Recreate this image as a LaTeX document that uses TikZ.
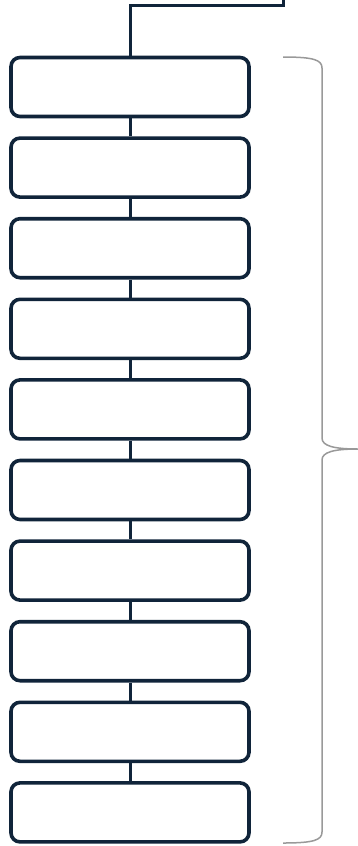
\documentclass[tikz,border=0pt]{standalone}
\usepackage{tikz}
\usetikzlibrary{positioning, calc}
\definecolor{navy}{HTML}{10243A}

\begin{document}
\begin{tikzpicture}[x=1pt, y=-1pt,
  stage/.style={draw=navy, line width=3.6pt, rounded corners=9pt, fill=white, minimum width=238pt, minimum height=59pt, inner sep=0pt},
  link/.style={draw=navy, line width=3pt},
  grouping/.style={draw=gray!80, line width=1.5pt}
]
\useasboundingbox (0,0) rectangle (358,846);

% Stages
\foreach \i in {1,...,10} {
  \node[stage] (box\i) at (130, {87 + (\i-1)*80.6}) {};
}

% Links between stages
\foreach \i [evaluate=\i as \j using int(\i+1)] in {1,...,9} {
  \draw[link] (box\i.south) -- (box\j.north);
}

% Incoming line from the top
\coordinate (entry) at (283,0);
\draw[link] (box1.north) |- (130,5) -| (entry);

% Brace over all stages
\coordinate (bracetop) at (283,57);
\coordinate (bracetip) at (358,449);
\coordinate (bracebot) at (283,843);
\draw[grouping] (bracetop) .. controls (314,57) and (322,60) .. (322,68)
  -- (322,438) .. controls (322,446) and (334,449) .. (bracetip)
  .. controls (334,449) and (322,452) .. (322,460)
  -- (322,832) .. controls (322,840) and (314,843) .. (bracebot);

\end{tikzpicture}
\end{document}
